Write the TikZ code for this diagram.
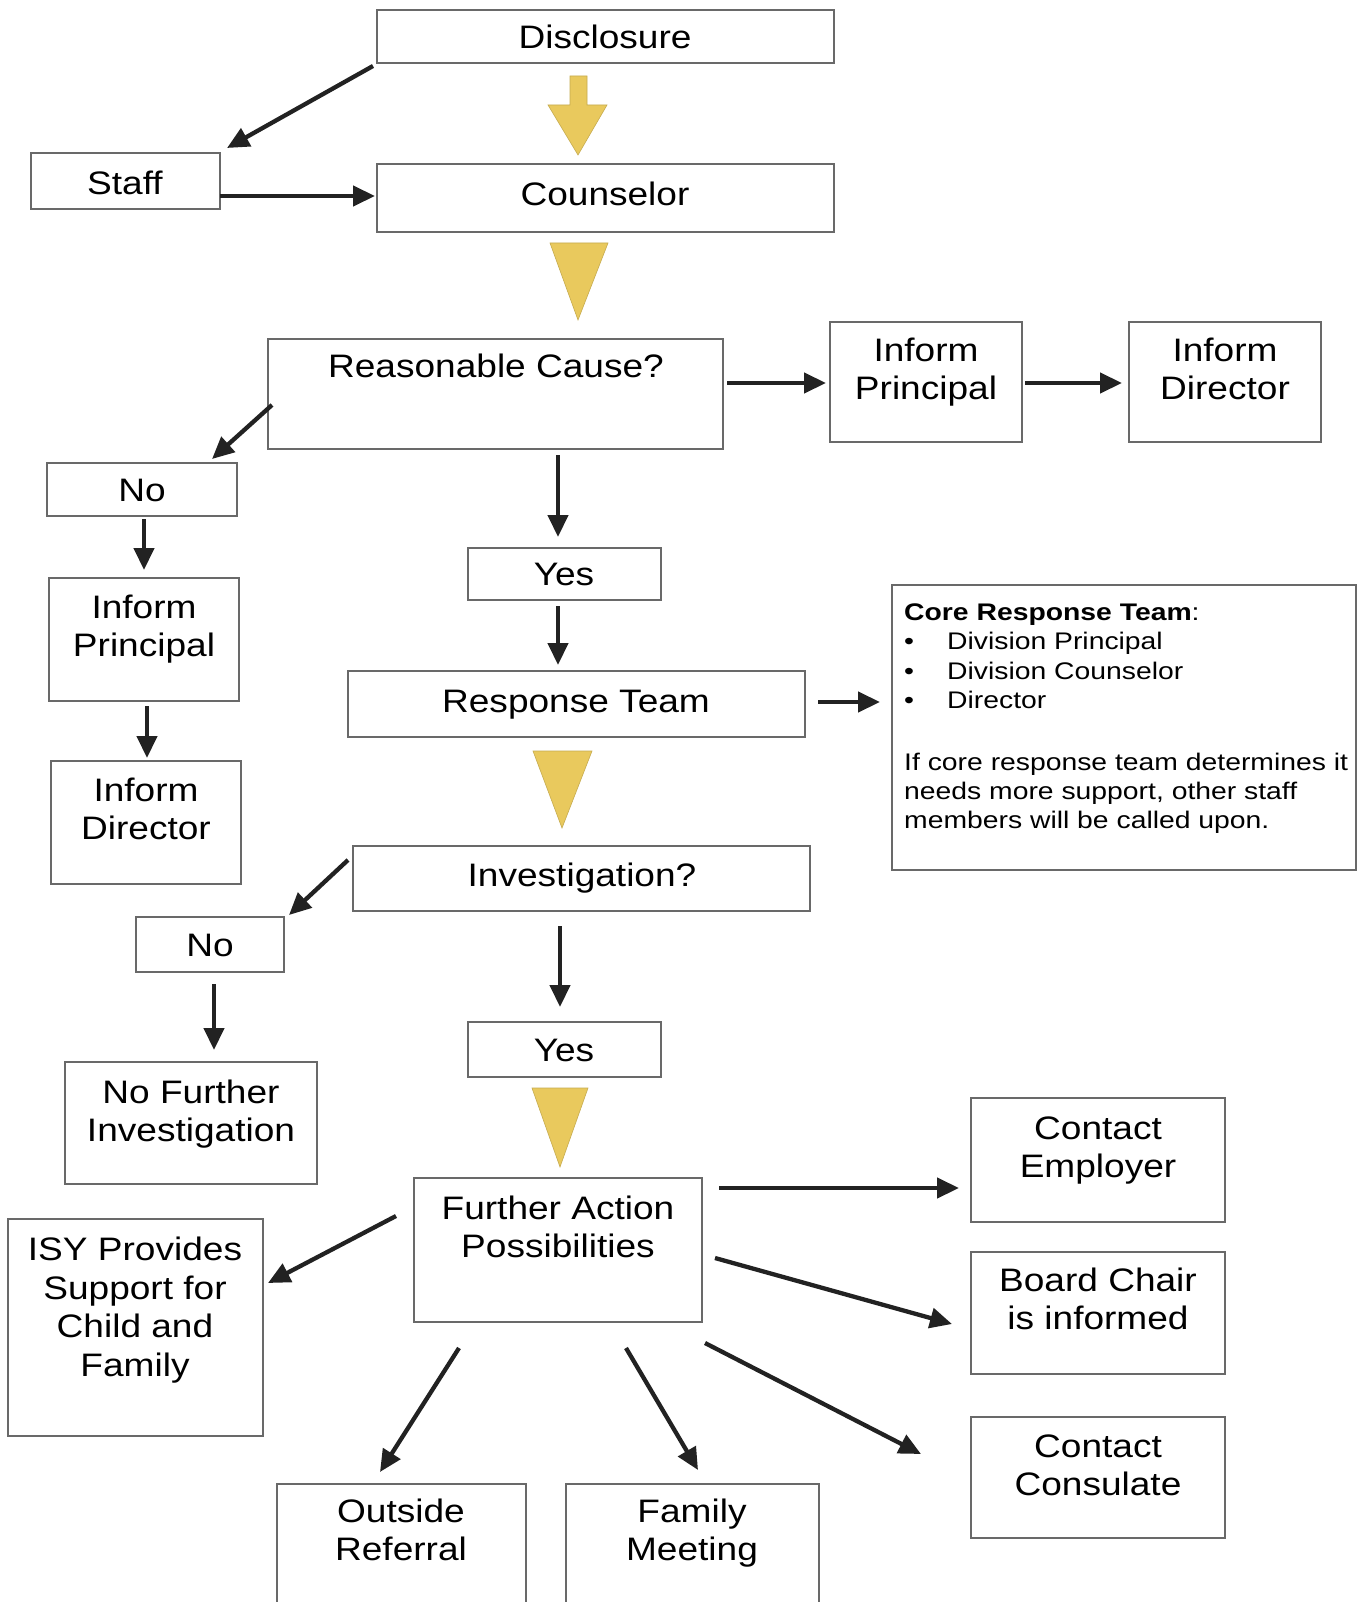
\documentclass[tikz,border=0pt]{standalone}
\usepackage{fontspec}
\setmainfont{Liberation Sans}[FakeStretch=1.14]
\newfontfamily\corefont{Liberation Sans}[FakeStretch=1.18]
\usetikzlibrary{arrows.meta}
\definecolor{boxline}{RGB}{105,105,105}
\definecolor{arrowcol}{RGB}{34,34,34}
\definecolor{gold}{RGB}{233,201,93}
\tikzset{
  box/.style={draw=boxline, line width=1.6pt, rectangle, inner sep=0pt, fill=white},
  lbl/.style={inner sep=0pt, font=\fontsize{32.5}{38.5}\selectfont, align=center, text height=23.4pt, text depth=0pt},
  lbltwo/.style={lbl, text height=61.9pt},
  lblfour/.style={lbl, text height=138.9pt},
  coreline/.style={inner sep=0pt, anchor=west, font=\corefont\fontsize{24}{29.5}\selectfont, text height=17.3pt, text depth=0pt},
  arr/.style={draw=arrowcol, line width=4.3pt, -{Triangle[length=22pt,width=20pt]}},
  goldshape/.style={fill=gold, draw=gold!85!black, line width=0.6pt}
}
\newcommand\mkbox[5]{\node[box, minimum width={(#4-#2)*1pt}, minimum height={(#5-#3)*1pt}] (#1) at ({(#2+#4)/2},{(#3+#5)/2}) {};}
\begin{document}
\begin{tikzpicture}[x=1pt,y=-1pt]
\useasboundingbox (0,0) rectangle (1362,1602);
\fill[white] (0,0) rectangle (1362,1602);
\clip (0,0) rectangle (1362,1602);

% ---------- boxes ----------
\mkbox{disc}{377}{10}{834}{63}
\mkbox{couns}{377}{164}{834}{232}
\mkbox{staff}{31}{153}{220}{209}
\mkbox{rc}{268}{339}{723}{449}
\mkbox{ipt}{830}{322}{1022}{442}
\mkbox{idt}{1129}{322}{1321}{442}
\mkbox{noa}{47}{463}{237}{516}
\mkbox{ipl}{49}{578}{239}{701}
\mkbox{idl}{51}{761}{241}{884}
\mkbox{yesa}{468}{548}{661}{600}
\mkbox{rt}{348}{671}{805}{737}
\mkbox{core}{892}{585}{1356}{870}
\mkbox{inv}{353}{846}{810}{911}
\mkbox{nob}{136}{917}{284}{972}
\mkbox{nfi}{65}{1062}{317}{1184}
\mkbox{yesb}{468}{1022}{661}{1077}
\mkbox{fap}{414}{1178}{702}{1322}
\mkbox{isy}{8}{1219}{263}{1436}
\mkbox{ce}{971}{1098}{1225}{1222}
\mkbox{bc}{971}{1252}{1225}{1374}
\mkbox{cc}{971}{1417}{1225}{1538}
\mkbox{orf}{277}{1484}{526}{1640}
\mkbox{fm}{566}{1484}{819}{1640}

% ---------- labels ----------
\node[lbl] (disc-t) at (605,37) {Disclosure};
\node[lbl] (couns-t) at (605,194) {Counselor};
\node[lbl] (staff-t) at (125,183) {Staff};
\node[lbl] (rc-t) at (496,366) {Reasonable Cause?};
\node[lbltwo] (ipt-t) at (926,369) {Inform\\Principal};
\node[lbltwo] (idt-t) at (1225,369) {Inform\\Director};
\node[lbl] (noa-t) at (142,490) {No};
\node[lbltwo] (ipl-t) at (144,626) {Inform\\Principal};
\node[lbltwo] (idl-t) at (146,809) {Inform\\Director};
\node[lbl] (yesa-t) at (564,574) {Yes};
\node[lbl] (rt-t) at (576,701) {Response Team};
\node[lbl] (inv-t) at (582,875) {Investigation?};
\node[lbl] (nob-t) at (210,945) {No};
\node[lbltwo] (nfi-t) at (191,1111) {No Further\\Investigation};
\node[lbl] (yesb-t) at (564,1050) {Yes};
\node[lbltwo] (fap-t) at (558,1227) {Further Action\\Possibilities};
\node[lblfour] (isy-t) at (135,1307) {ISY Provides\\Support for\\Child and\\Family};
\node[lbltwo] (ce-t) at (1098,1147) {Contact\\Employer};
\node[lbltwo] (bc-t) at (1098,1299) {Board Chair\\is informed};
\node[lbltwo] (cc-t) at (1098,1465) {Contact\\Consulate};
\node[lbltwo] (orf-t) at (401,1530) {Outside\\Referral};
\node[lbltwo] (fm-t) at (692,1530) {Family\\Meeting};

% core response team text
\node[coreline] (c1) at (904,612) {\textbf{Core Response Team}:};
\node[coreline] (b1) at (904,641) {•};
\node[coreline] (c2) at (947,641) {Division Principal};
\node[coreline] (b2) at (904,671) {•};
\node[coreline] (c3) at (947,671) {Division Counselor};
\node[coreline] (b3) at (904,700) {•};
\node[coreline] (c4) at (947,700) {Director};
\node[coreline] (c5) at (904,762) {If core response team determines it};
\node[coreline] (c6) at (904,791) {needs more support, other staff};
\node[coreline] (c7) at (904,820) {members will be called upon.};

% ---------- gold arrows ----------
\fill[goldshape] (570,76) -- (587,76) -- (587,105) -- (607,105) -- (578,155) -- (548,105) -- (570,105) -- cycle;
\fill[goldshape] (550,243) -- (608,243) -- (578,320) -- cycle;
\fill[goldshape] (533,751) -- (592,751) -- (562,828) -- cycle;
\fill[goldshape] (532,1088) -- (588,1088) -- (560,1167) -- cycle;

% ---------- connector end points ----------
\coordinate (s1) at (373,66);   \coordinate (e1) at (227,148);
\coordinate (s2) at (220,196);  \coordinate (e2) at (375,196);
\coordinate (s3) at (727,383);  \coordinate (e3) at (826,383);
\coordinate (s4) at (1025,383); \coordinate (e4) at (1122,383);
\coordinate (s5) at (272,405);  \coordinate (e5) at (212,459);
\coordinate (s6) at (144,519);  \coordinate (e6) at (144,570);
\coordinate (s7) at (147,706);  \coordinate (e7) at (147,758);
\coordinate (s8) at (558,455);  \coordinate (e8) at (558,537);
\coordinate (s9) at (558,606);  \coordinate (e9) at (558,665);
\coordinate (s10) at (818,702); \coordinate (e10) at (880,702);
\coordinate (s11) at (348,860); \coordinate (e11) at (289,915);
\coordinate (s12) at (214,984); \coordinate (e12) at (214,1050);
\coordinate (s13) at (560,926); \coordinate (e13) at (560,1007);
\coordinate (s14) at (396,1216);\coordinate (e14) at (268,1283);
\coordinate (s15) at (719,1188);\coordinate (e15) at (959,1188);
\coordinate (s16) at (715,1258);\coordinate (e16) at (952,1324);
\coordinate (s17) at (705,1343);\coordinate (e17) at (921,1454);
\coordinate (s18) at (459,1348);\coordinate (e18) at (380,1472);
\coordinate (s19) at (626,1348);\coordinate (e19) at (698,1470);

% ---------- connectors ----------
\foreach \i in {1,...,19} { \draw[arr] (s\i) -- (e\i); }
\end{tikzpicture}
\end{document}
